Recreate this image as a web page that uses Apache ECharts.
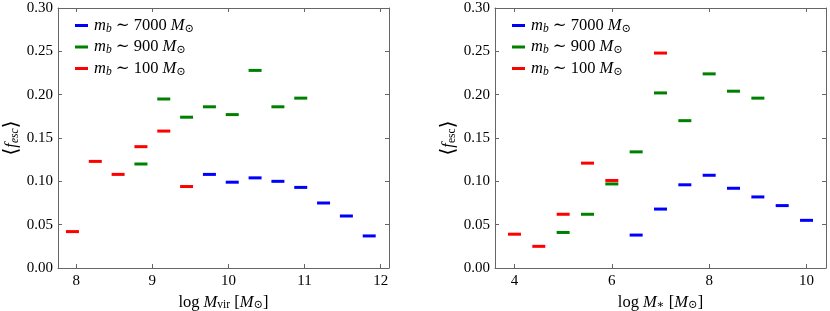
<!DOCTYPE html>
<html><head><meta charset="utf-8">
<script src="https://cdn.jsdelivr.net/npm/echarts@6/dist/echarts.min.js"></script>
<style>html,body{margin:0;padding:0;background:#fff}#c{width:830px;height:311px}</style>
</head><body><div id="c"></div>
<script>
// ---- data ----
const blueLeftX  = [9.75, 10.05, 10.35, 10.65, 10.95, 11.25, 11.55, 11.85];
const blueLeftY  = [0.108, 0.099, 0.104, 0.100, 0.093, 0.075, 0.060, 0.037];
const greenLeftX = [8.85, 9.15, 9.45, 9.75, 10.05, 10.35, 10.65, 10.95];
const greenLeftY = [0.120, 0.195, 0.174, 0.186, 0.177, 0.228, 0.186, 0.196];
const redLeftX   = [7.95, 8.25, 8.55, 8.85, 9.15, 9.45];
const redLeftY   = [0.042, 0.123, 0.108, 0.140, 0.158, 0.094];

const blueRightX  = [6.5, 7.0, 7.5, 8.0, 8.5, 9.0, 9.5, 10.0];
const blueRightY  = [0.038, 0.068, 0.096, 0.107, 0.092, 0.082, 0.072, 0.055];
const greenRightX = [5.0, 5.5, 6.0, 6.5, 7.0, 7.5, 8.0, 8.5, 9.0];
const greenRightY = [0.041, 0.062, 0.097, 0.134, 0.202, 0.170, 0.224, 0.204, 0.196];
const redRightX   = [4.0, 4.5, 5.0, 5.5, 6.0, 7.0];
const redRightY   = [0.039, 0.025, 0.062, 0.121, 0.101, 0.248];

const leftXTicks  = [8, 9, 10, 11, 12];
const rightXTicks = [4, 6, 8, 10];
const seriesNames = ['m7000', 'm900', 'm100'];
const seriesLabels = {m7000: '7000', m900: '900', m100: '100'};

// ---- styling ----
const F = '"Liberation Serif", "DejaVu Serif", serif';
const FS = 15;
const NS = 16.5;
const AX = '#666';
const COLORS = {m7000: '#0000ff', m900: '#008000', m100: '#ff0000'};
const rich = {
  n:  {fontFamily: F, fontSize: NS, lineHeight: 18, color: '#000'},
  i:  {fontFamily: F, fontSize: NS, lineHeight: 18, fontStyle: 'italic', color: '#000'},
  b:  {fontFamily: F, fontSize: 20, lineHeight: 18, color: '#000'},
  s:  {fontFamily: F, fontSize: 11.5, lineHeight: 10, fontStyle: 'italic', verticalAlign: 'bottom', color: '#000'},
  su: {fontFamily: F, fontSize: 11.5, lineHeight: 10, verticalAlign: 'bottom', color: '#000'}
};
const zip = (xs, ys) => xs.map((x, k) => [x, ys[k]]);

function xAx(gi, min, max, ticks, top, name) {
  return {
    type: 'value', gridIndex: gi, min: min, max: max, position: top ? 'top' : 'bottom',
    splitLine: {show: false},
    axisLine: {show: true, onZero: false, lineStyle: {color: AX, width: 1}},
    axisTick: {show: true, inside: true, length: 4, customValues: ticks, lineStyle: {color: AX}},
    axisLabel: {show: !top, customValues: ticks, margin: 6, fontFamily: F, fontSize: FS, color: '#000'},
    name: top ? '' : name, nameLocation: 'middle', nameGap: 19,
    nameTextStyle: {rich: rich}
  };
}
function yAx(gi, right, name) {
  return {
    type: 'value', gridIndex: gi, min: 0, max: 0.3, interval: 0.05, position: right ? 'right' : 'left',
    splitLine: {show: false},
    axisLine: {show: true, onZero: false, lineStyle: {color: AX, width: 1}},
    axisTick: {show: true, inside: true, length: 4, lineStyle: {color: AX}},
    axisLabel: {show: !right, margin: 5, fontFamily: F, fontSize: FS, color: '#000',
                formatter: v => v.toFixed(2)},
    name: right ? '' : name, nameLocation: 'middle', nameGap: 37, nameRotate: 90,
    nameTextStyle: {rich: rich}
  };
}
function sc(name, xi, yi, xs, ys) {
  return {
    type: 'scatter', name: name, xAxisIndex: xi, yAxisIndex: yi,
    symbol: 'rect', symbolSize: [13, 3],
    itemStyle: {color: COLORS[name], opacity: 1},
    data: zip(xs, ys), z: 2 + seriesNames.indexOf(name)
  };
}
function lg(left) {
  return {
    left: left, top: 12, orient: 'vertical', icon: 'rect', itemWidth: 13, itemHeight: 3,
    itemGap: 4, selectedMode: false, data: seriesNames,
    formatter: nm => '{i|m}{s|b}{n| \u223C ' + seriesLabels[nm] + ' }{i|M}{su|\u2299}',
    textStyle: {rich: rich, padding: [0, 0, 0, 1]}
  };
}

const chart = echarts.init(document.getElementById('c'), null, {renderer: 'canvas'});
chart.setOption({
  animation: false,
  backgroundColor: '#fff',
  grid: [
    {left: 58, top: 8, width: 331, height: 260, outerBoundsMode: 'none', containLabel: false},
    {left: 495, top: 8, width: 331, height: 260, outerBoundsMode: 'none', containLabel: false}
  ],
  legend: [lg(70), lg(507)],
  xAxis: [
    xAx(0, 7.76, 12.11, leftXTicks, false, '{n|log }{i|M}{su|vir}{n| [}{i|M}{su|\u2299}{n|]}'),
    xAx(0, 7.76, 12.11, leftXTicks, true, ''),
    xAx(1, 3.6, 10.4, rightXTicks, false, '{n|log }{i|M}{su|\u2217}{n| [}{i|M}{su|\u2299}{n|]}'),
    xAx(1, 3.6, 10.4, rightXTicks, true, '')
  ],
  yAxis: [
    yAx(0, false, '{b|\u27E8}{i|f}{s|esc}{b|\u27E9}'),
    yAx(0, true, ''),
    yAx(1, false, '{b|\u27E8}{i|f}{su|esc}{b|\u27E9}'),
    yAx(1, true, '')
  ],
  series: [
    sc('m7000', 0, 0, blueLeftX, blueLeftY),
    sc('m900', 0, 0, greenLeftX, greenLeftY),
    sc('m100', 0, 0, redLeftX, redLeftY),
    sc('m7000', 2, 2, blueRightX, blueRightY),
    sc('m900', 2, 2, greenRightX, greenRightY),
    sc('m100', 2, 2, redRightX, redRightY)
  ]
});
</script></body></html>
